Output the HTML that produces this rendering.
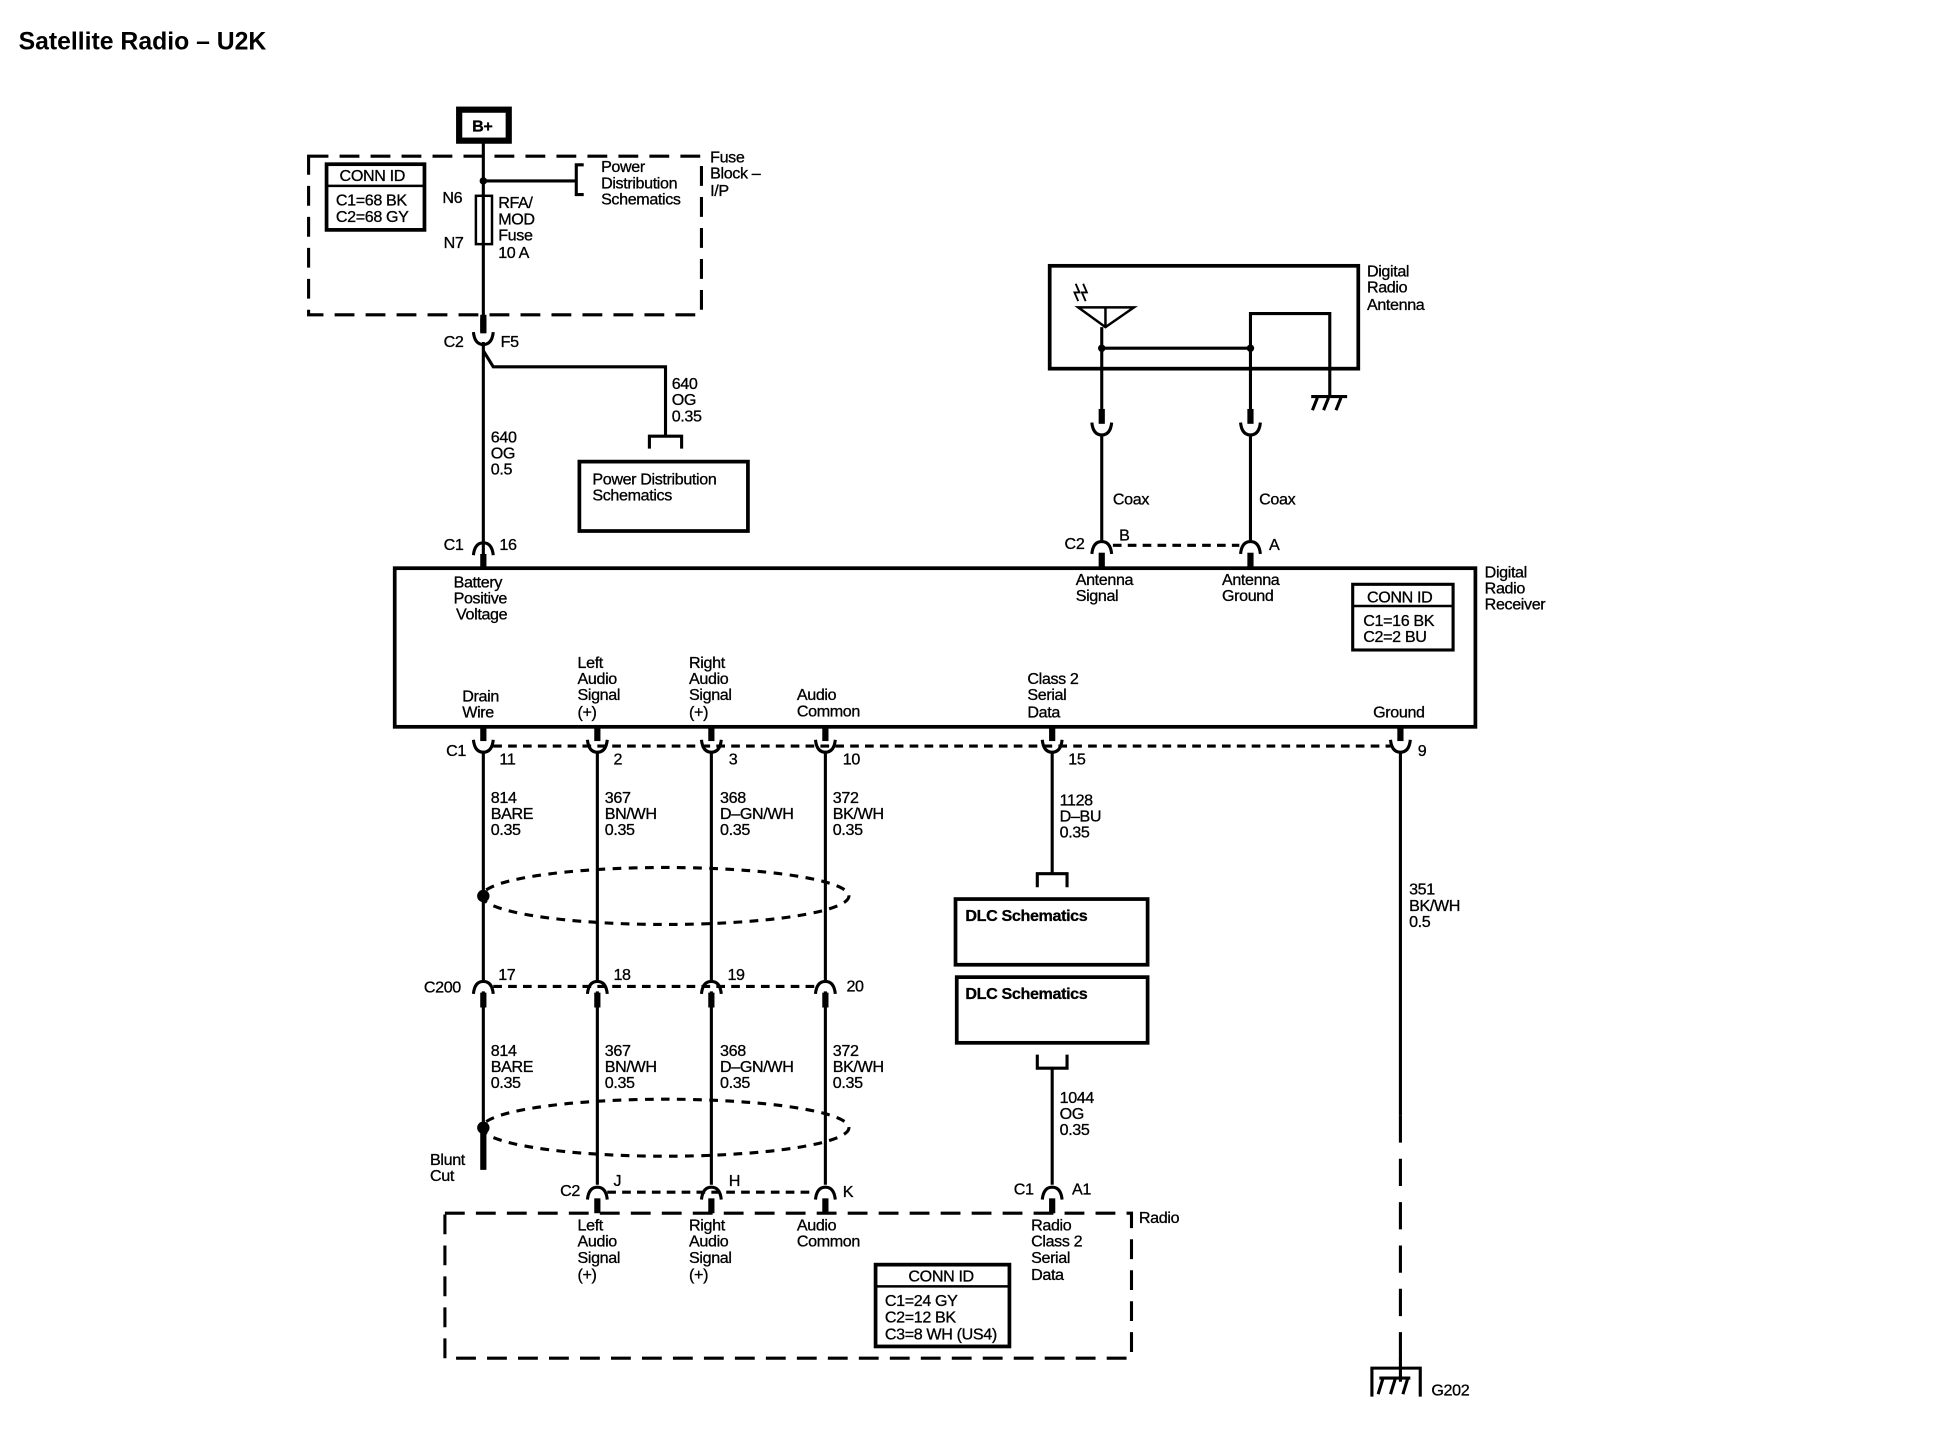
<!DOCTYPE html>
<html><head><meta charset="utf-8"><style>
html,body{margin:0;padding:0;background:#fff;}
svg{display:block;}
text{font-family:"Liberation Sans",sans-serif;font-size:13px;fill:#000;letter-spacing:-0.3px;stroke:#000;stroke-width:0.25px;}
.b{font-weight:bold;}
</style></head><body>
<svg width="1942" height="1440" viewBox="0 0 1567 1162" preserveAspectRatio="none" xmlns="http://www.w3.org/2000/svg">
<defs>
<g id="cu"><path d="M-8,-5 Q-7,5 0,5 Q7,5 8,-5" fill="none" stroke="#000" stroke-width="2.5"/><rect x="-2.5" y="-16" width="5" height="12"/></g>
<g id="ca"><path d="M-8,5 Q-7,-5 0,-5 Q7,-5 8,5" fill="none" stroke="#000" stroke-width="2.5"/><rect x="-2.5" y="4" width="5" height="12"/></g>
</defs>
<g stroke="#000" fill="none">
<rect x="370.5" y="88.5" width="40" height="25" stroke-width="5"/>
<rect x="249" y="126" width="317" height="128" stroke-width="2.5" stroke-dasharray="16,9"/>
<rect x="263.5" y="132.5" width="79" height="53" stroke-width="3"/>
<line x1="263" y1="150" x2="343" y2="150" stroke-width="2"/>
<line x1="390" y1="115" x2="390" y2="263" stroke-width="2.5"/>
<line x1="390" y1="146" x2="465" y2="146" stroke-width="2.5"/>
<path d="M471,133 H465 V157 H471" stroke-width="2.5"/>
<rect x="384" y="158" width="13" height="39" stroke-width="2"/>
<line x1="390" y1="254" x2="390" y2="268" stroke-width="5"/>
<line x1="390" y1="276" x2="390" y2="458" stroke-width="2.5"/>
<path d="M390,283 L398,296 H537 V352" stroke-width="2.5"/>
<path d="M524,362 V352 H550 V362" stroke-width="2.5"/>
<rect x="467.5" y="372.5" width="136" height="56" stroke-width="3"/>
<rect x="318.5" y="458.5" width="872" height="128" stroke-width="3"/>
<rect x="1091.5" y="471.5" width="81" height="53" stroke-width="2.5"/>
<line x1="1091" y1="489" x2="1173" y2="489" stroke-width="2"/>
<rect x="847" y="214.5" width="249" height="83" stroke-width="3"/>
<path d="M870,248 H915 L892,264 Z M892,248 V264" stroke-width="2"/>
<line x1="889" y1="264" x2="889" y2="335" stroke-width="2.5"/>
<line x1="889" y1="281" x2="1009" y2="281" stroke-width="2.5"/>
<path d="M1009,335 V253 H1073 V320" stroke-width="2.5"/>
<line x1="1058" y1="320" x2="1087" y2="320" stroke-width="2.5"/>
<path d="M1063,321 L1059,331 M1072,321 L1068,331 M1082,321 L1078,331" stroke-width="2.5"/>
<path d="M868,229 L871,236 L867,236 L870,243 M874,229 L877,236 L873,236 L876,243" stroke-width="1.5"/>
<line x1="889" y1="350" x2="889" y2="436" stroke-width="2.5"/>
<line x1="1009" y1="350" x2="1009" y2="436" stroke-width="2.5"/>
<line x1="898" y1="440" x2="1000" y2="440" stroke-width="2.5" stroke-dasharray="7,5"/>
<line x1="398" y1="602" x2="1122" y2="602" stroke-width="2.5" stroke-dasharray="7,5"/>
<line x1="390" y1="606" x2="390" y2="791" stroke-width="2.5"/>
<line x1="482" y1="606" x2="482" y2="791" stroke-width="2.5"/>
<line x1="574" y1="606" x2="574" y2="791" stroke-width="2.5"/>
<line x1="666" y1="606" x2="666" y2="791" stroke-width="2.5"/>
<line x1="849" y1="606" x2="849" y2="705" stroke-width="2.5"/>
<path d="M837,716 V705 H861 V716" stroke-width="2.5"/>
<rect x="771" y="725.5" width="155" height="53" stroke-width="3"/>
<rect x="772" y="788.5" width="154" height="53" stroke-width="3"/>
<path d="M837,851 V862 H861 V851" stroke-width="2.5"/>
<line x1="849" y1="862" x2="849" y2="956" stroke-width="2.5"/>
<line x1="1130" y1="606" x2="1130" y2="900" stroke-width="2.5"/>
<line x1="1130" y1="900" x2="1130" y2="1100" stroke-width="2.5" stroke-dasharray="22,13"/>
<line x1="1130" y1="1096" x2="1130" y2="1115" stroke-width="2.5"/>
<path d="M1107,1127 V1104 H1146 V1127" stroke-width="2.5"/>
<path d="M1116,1112 L1112,1125 M1126,1112 L1122,1125 M1136,1112 L1132,1125 M1113,1112 H1138" stroke-width="2.5"/>
<ellipse cx="537" cy="723" rx="148" ry="23" stroke-width="2.5" stroke-dasharray="7,6"/>
<ellipse cx="537" cy="910" rx="148" ry="23" stroke-width="2.5" stroke-dasharray="7,6"/>
<line x1="398" y1="796" x2="658" y2="796" stroke-width="2.5" stroke-dasharray="7,5"/>
<line x1="390" y1="800" x2="390" y2="912" stroke-width="2.5"/>
<line x1="390" y1="912" x2="390" y2="944" stroke-width="5"/>
<line x1="482" y1="800" x2="482" y2="956" stroke-width="2.5"/>
<line x1="574" y1="800" x2="574" y2="956" stroke-width="2.5"/>
<line x1="666" y1="800" x2="666" y2="956" stroke-width="2.5"/>
<line x1="490" y1="962" x2="658" y2="962" stroke-width="2.5" stroke-dasharray="7,5"/>
<rect x="359" y="979" width="554" height="117" stroke-width="2.5" stroke-dasharray="16,9"/>
<rect x="706.5" y="1020.5" width="108" height="66" stroke-width="3"/>
<line x1="706" y1="1038" x2="815" y2="1038" stroke-width="2"/>
</g>
<g fill="#000">
<circle cx="390" cy="146" r="3"/>
<circle cx="889" cy="281" r="3"/>
<circle cx="1009" cy="281" r="3"/>
<circle cx="390" cy="723" r="5"/>
<circle cx="390" cy="910" r="5"/>
<use href="#cu" x="390" y="273"/>
<use href="#ca" x="390" y="443"/>
<use href="#cu" x="889" y="346"/>
<use href="#cu" x="1009" y="346"/>
<use href="#ca" x="889" y="442"/>
<use href="#ca" x="1009" y="442"/>
<use href="#cu" x="390" y="602"/>
<use href="#cu" x="482" y="602"/>
<use href="#cu" x="574" y="602"/>
<use href="#cu" x="666" y="602"/>
<use href="#cu" x="849" y="602"/>
<use href="#cu" x="1130" y="602"/>
<use href="#ca" x="390" y="797"/>
<use href="#ca" x="482" y="797"/>
<use href="#ca" x="574" y="797"/>
<use href="#ca" x="666" y="797"/>
<use href="#ca" x="482" y="963"/>
<use href="#ca" x="574" y="963"/>
<use href="#ca" x="666" y="963"/>
<use href="#ca" x="849" y="963"/>
</g>
<text x="15" y="40" class="b" style="font-size:20px;letter-spacing:0;stroke-width:0">Satellite Radio – U2K</text>
<text x="381" y="106" class="b">B+</text>
<text x="274" y="146">CONN ID</text>
<text x="271" y="166">C1=68 BK</text>
<text x="271" y="179">C2=68 GY</text>
<text x="485" y="139">Power</text><text x="485" y="152">Distribution</text><text x="485" y="165">Schematics</text>
<text x="573" y="131">Fuse</text><text x="573" y="144">Block –</text><text x="573" y="158">I/P</text>
<text x="357" y="164">N6</text><text x="358" y="200">N7</text>
<text x="402" y="168">RFA/</text><text x="402" y="181">MOD</text><text x="402" y="194">Fuse</text><text x="402" y="208">10 A</text>
<text x="358" y="280">C2</text><text x="404" y="280">F5</text>
<text x="542" y="314">640</text><text x="542" y="327">OG</text><text x="542" y="340">0.35</text>
<text x="478" y="391">Power Distribution</text><text x="478" y="404">Schematics</text>
<text x="396" y="357">640</text><text x="396" y="370">OG</text><text x="396" y="383">0.5</text>
<text x="358" y="444">C1</text><text x="403" y="444">16</text>
<text x="366" y="474">Battery</text><text x="366" y="487">Positive</text><text x="368" y="500">Voltage</text>
<text x="1103" y="223">Digital</text><text x="1103" y="236">Radio</text><text x="1103" y="250">Antenna</text>
<text x="898" y="407">Coax</text><text x="1016" y="407">Coax</text>
<text x="859" y="443">C2</text><text x="903" y="436">B</text><text x="1024" y="444">A</text>
<text x="868" y="472">Antenna</text><text x="868" y="485">Signal</text>
<text x="986" y="472">Antenna</text><text x="986" y="485">Ground</text>
<text x="1198" y="466">Digital</text><text x="1198" y="479">Radio</text><text x="1198" y="492">Receiver</text>
<text x="1103" y="486">CONN ID</text>
<text x="1100" y="505">C1=16 BK</text><text x="1100" y="518">C2=2 BU</text>
<text x="373" y="566">Drain</text><text x="373" y="579">Wire</text>
<text x="466" y="539">Left</text><text x="466" y="552">Audio</text><text x="466" y="565">Signal</text><text x="466" y="579">(+)</text>
<text x="556" y="539">Right</text><text x="556" y="552">Audio</text><text x="556" y="565">Signal</text><text x="556" y="579">(+)</text>
<text x="643" y="565">Audio</text><text x="643" y="578">Common</text>
<text x="829" y="552">Class 2</text><text x="829" y="565">Serial</text><text x="829" y="579">Data</text>
<text x="1108" y="579">Ground</text>
<text x="360" y="610">C1</text>
<text x="403" y="617">11</text><text x="495" y="617">2</text><text x="588" y="617">3</text><text x="680" y="617">10</text><text x="862" y="617">15</text><text x="1144" y="610">9</text>
<text x="396" y="648">814</text><text x="396" y="661">BARE</text><text x="396" y="674">0.35</text>
<text x="488" y="648">367</text><text x="488" y="661">BN/WH</text><text x="488" y="674">0.35</text>
<text x="581" y="648">368</text><text x="581" y="661">D–GN/WH</text><text x="581" y="674">0.35</text>
<text x="672" y="648">372</text><text x="672" y="661">BK/WH</text><text x="672" y="674">0.35</text>
<text x="855" y="650">1128</text><text x="855" y="663">D–BU</text><text x="855" y="676">0.35</text>
<text x="1137" y="722">351</text><text x="1137" y="735">BK/WH</text><text x="1137" y="748">0.5</text>
<text x="779" y="743" class="b">DLC Schematics</text>
<text x="779" y="806" class="b">DLC Schematics</text>
<text x="342" y="801">C200</text>
<text x="402" y="791">17</text><text x="495" y="791">18</text><text x="587" y="791">19</text><text x="683" y="800">20</text>
<text x="396" y="852">814</text><text x="396" y="865">BARE</text><text x="396" y="878">0.35</text>
<text x="488" y="852">367</text><text x="488" y="865">BN/WH</text><text x="488" y="878">0.35</text>
<text x="581" y="852">368</text><text x="581" y="865">D–GN/WH</text><text x="581" y="878">0.35</text>
<text x="672" y="852">372</text><text x="672" y="865">BK/WH</text><text x="672" y="878">0.35</text>
<text x="855" y="890">1044</text><text x="855" y="903">OG</text><text x="855" y="916">0.35</text>
<text x="347" y="940">Blunt</text><text x="347" y="953">Cut</text>
<text x="452" y="965">C2</text><text x="495" y="957">J</text><text x="588" y="957">H</text><text x="680" y="966">K</text>
<text x="818" y="964">C1</text><text x="865" y="964">A1</text>
<text x="919" y="987">Radio</text>
<text x="466" y="993">Left</text><text x="466" y="1006">Audio</text><text x="466" y="1019">Signal</text><text x="466" y="1033">(+)</text>
<text x="556" y="993">Right</text><text x="556" y="1006">Audio</text><text x="556" y="1019">Signal</text><text x="556" y="1033">(+)</text>
<text x="643" y="993">Audio</text><text x="643" y="1006">Common</text>
<text x="832" y="993">Radio</text><text x="832" y="1006">Class 2</text><text x="832" y="1019">Serial</text><text x="832" y="1033">Data</text>
<text x="733" y="1034">CONN ID</text>
<text x="714" y="1054">C1=24 GY</text><text x="714" y="1067">C2=12 BK</text><text x="714" y="1081">C3=8 WH (US4)</text>
<text x="1155" y="1126">G202</text>
</svg>
</body></html>
